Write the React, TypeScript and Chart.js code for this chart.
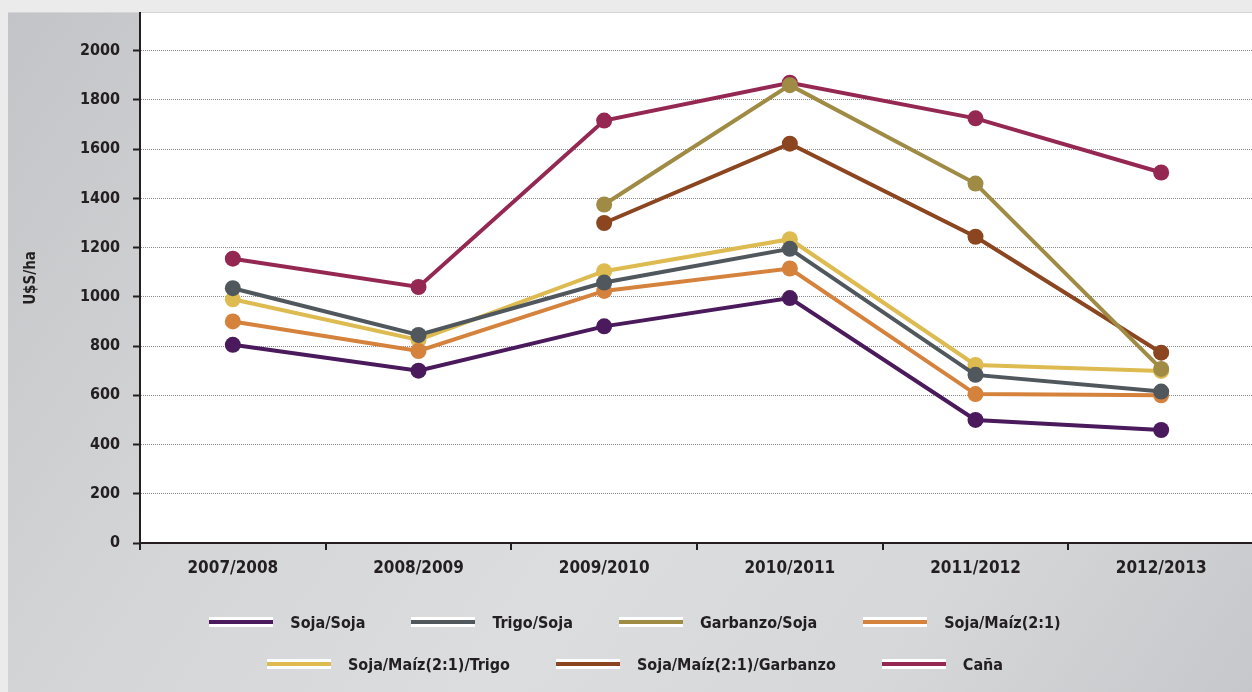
import React, { useEffect, useRef } from "react";
import { Chart, registerables } from "chart.js";

Chart.register(...registerables);

const categories = ["2007/2008", "2008/2009", "2009/2010", "2010/2011", "2011/2012", "2012/2013"];

const sojaSoja = [805, 700, 880, 995, 500, 459];
const trigoSoja = [1035, 845, 1058, 1195, 683, 615];
const garbanzoSoja = [null, null, 1375, 1860, 1460, 707];
const sojaMaiz = [900, 780, 1024, 1115, 605, 600];
const sojaMaizTrigo = [990, 825, 1104, 1234, 723, 699];
const sojaMaizGarbanzo = [null, null, 1300, 1622, 1244, 773];
const cana = [1155, 1040, 1716, 1870, 1725, 1505];

const seriesNames = [
  "Soja/Soja",
  "Trigo/Soja",
  "Garbanzo/Soja",
  "Soja/Maíz(2:1)",
  "Soja/Maíz(2:1)/Trigo",
  "Soja/Maíz(2:1)/Garbanzo",
  "Caña",
];
const seriesValues = [sojaSoja, trigoSoja, garbanzoSoja, sojaMaiz, sojaMaizTrigo, sojaMaizGarbanzo, cana];
const seriesColors = ["#4a1a5c", "#50585e", "#a08b45", "#d5823d", "#ddbb50", "#8b4620", "#952853"];

const yMin = 0;
const yMax = 2153;
const yStep = 200;
const yAxisTitle = "U$S/ha";

const FONT = "'DejaVu Sans Condensed', 'DejaVu Sans', sans-serif";
const TEXT = "#231f20";

const chartAreaBg = {
  id: "chartAreaBg",
  beforeDraw(chart: any) {
    const { ctx, chartArea } = chart;
    if (!chartArea) return;
    ctx.save();
    ctx.fillStyle = "#ffffff";
    ctx.fillRect(chartArea.left, chartArea.top, chartArea.right - chartArea.left, chartArea.bottom - chartArea.top);
    ctx.restore();
  },
};

function LegendItem({ name, color }: { name: string; color: string }) {
  return (
    <div style={{ display: "flex", alignItems: "center" }}>
      <div
        style={{
          width: 64,
          height: 4,
          background: color,
          borderTop: "3px solid #ffffff",
          borderBottom: "3px solid #ffffff",
          marginRight: 17,
        }}
      />
      <span style={{ fontFamily: FONT, fontWeight: "bold", fontSize: 16, color: TEXT, whiteSpace: "nowrap" }}>{name}</span>
    </div>
  );
}

export default function App() {
  const canvasRef = useRef<HTMLCanvasElement | null>(null);

  useEffect(() => {
    document.body.style.margin = "0";
    document.body.style.overflow = "hidden";
    const canvas = canvasRef.current;
    if (!canvas) return;
    const chart = new Chart(canvas, {
      type: "line",
      data: {
        labels: categories,
        datasets: seriesNames.map((name, i) => ({
          label: name,
          data: seriesValues[i],
          borderColor: seriesColors[i],
          backgroundColor: seriesColors[i],
          pointBackgroundColor: seriesColors[i],
          pointBorderColor: seriesColors[i],
          pointBorderWidth: 0,
          pointRadius: 8,
          pointHoverRadius: 8,
          borderWidth: 4,
          tension: 0,
          spanGaps: false,
          fill: false,
        })),
      },
      options: {
        responsive: false,
        animation: false,
        devicePixelRatio: 1,
        layout: { padding: { top: 13, left: 0, right: 0, bottom: 0 } },
        plugins: {
          legend: { display: false },
          tooltip: { enabled: false },
          title: { display: false },
        },
        scales: {
          x: {
            type: "category",
            offset: true,
            grid: {
              offset: true,
              drawOnChartArea: false,
              drawTicks: true,
              tickLength: 7,
              tickWidth: 2,
              tickColor: TEXT,
              color: TEXT,
              lineWidth: 2,
            },
            border: { display: true, color: TEXT, width: 2 },
            ticks: {
              color: TEXT,
              font: { family: FONT, size: 17, weight: "bold" },
              padding: 8,
              maxRotation: 0,
              autoSkip: false,
            },
            afterFit(scale: any) {
              scale.height = 149;
              scale.paddingLeft = 0;
              scale.paddingRight = 0;
            },
          },
          y: {
            type: "linear",
            min: yMin,
            max: yMax,
            grid: {
              drawOnChartArea: true,
              drawTicks: true,
              tickLength: 7,
              tickWidth: 2,
              tickColor: TEXT,
              color: "#8a8a8a",
              lineWidth: 1,
            },
            border: { display: true, color: TEXT, width: 2, dash: [1, 1] },
            ticks: {
              stepSize: yStep,
              includeBounds: false,
              color: TEXT,
              font: { family: FONT, size: 16, weight: "bold" },
              padding: 13,
              callback: (v: any) => String(v),
            },
            afterBuildTicks(scale: any) {
              scale.ticks = scale.ticks.filter((t: any) => t.value % yStep === 0);
            },
            title: {
              display: true,
              text: yAxisTitle,
              color: TEXT,
              font: { family: FONT, size: 15, weight: "bold" },
              padding: { top: 22, bottom: 0 },
            },
            afterFit(scale: any) {
              scale.width = 140;
              scale.paddingTop = 0;
              scale.paddingBottom = 0;
            },
          },
        },
      },
      plugins: [chartAreaBg],
    });
    return () => chart.destroy();
  }, []);

  const rows = [seriesNames.slice(0, 4), seriesNames.slice(4)];

  return (
    <div
      style={{
        position: "absolute",
        left: 0,
        top: 0,
        width: 1252,
        height: 692,
        overflow: "hidden",
        background: "#ebebeb",
      }}
    >
      <div
        style={{
          position: "absolute",
          left: 8,
          top: 12,
          width: 1254,
          height: 680,
          background: "linear-gradient(125deg, #c2c4c7 0%, #d4d5d7 30%, #dcdddf 55%, #d6d7d9 78%, #c5c7ca 100%)",
          borderTop: "1px solid #d3d5d7",
        }}
      />
      <canvas
        ref={canvasRef}
        width={1262}
        height={692}
        style={{ position: "absolute", left: 0, top: 0, width: 1262, height: 692, display: "block" }}
      />
      {rows.map((row, r) => (
        <div
          key={r}
          style={{
            position: "absolute",
            left: 8,
            width: 1254,
            top: r === 0 ? 612 : 654,
            height: 20,
            display: "flex",
            justifyContent: "center",
            alignItems: "center",
            gap: 46,
          }}
        >
          {row.map((name) => {
            const i = seriesNames.indexOf(name);
            return <LegendItem key={name} name={name} color={seriesColors[i]} />;
          })}
        </div>
      ))}
    </div>
  );
}
